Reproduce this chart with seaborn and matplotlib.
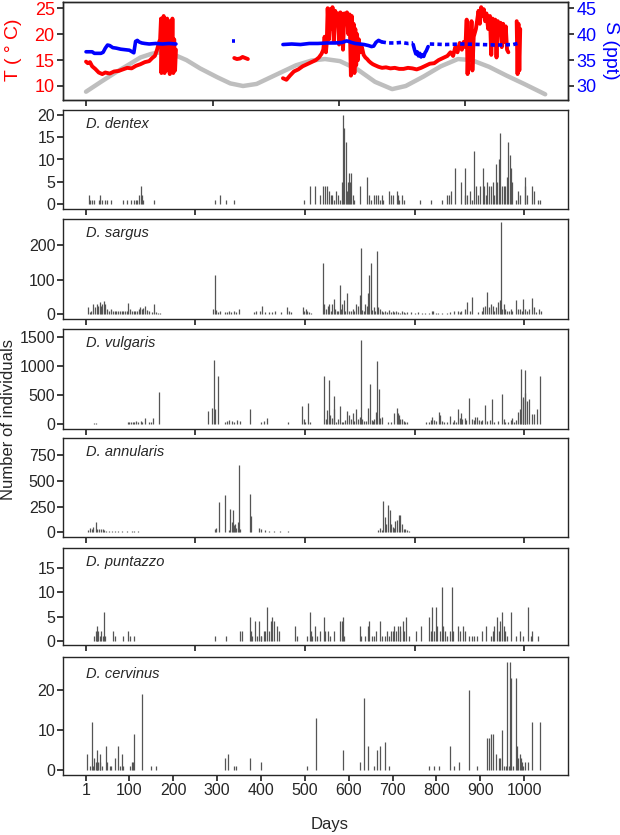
import matplotlib

matplotlib.use("Agg")
import matplotlib.pyplot as plt
import numpy as np
import pandas as pd
import seaborn as sns

nan = np.nan

# ---- top panel: seasonal curve, temperature (degC) and salinity (ppt) ----
season_day = [1, 35, 70, 100, 125, 150, 170, 200, 230, 261, 300, 330, 359, 390, 430, 480, 515, 546,
              580, 620, 660, 699, 730, 770, 810, 849, 880, 920, 960, 1000, 1048]
season_temp = [8.9, 10.8, 12.7, 14.2, 15.5, 16.2, 16.5, 16.1, 15.0, 13.4, 11.7, 10.5, 10.0, 10.4, 12.0,
               14.0, 14.9, 15.2, 14.8, 13.2, 10.8, 9.4, 10.0, 11.8, 13.8, 15.2, 15.0, 13.7, 12.0, 10.4, 8.4]

# nan marks a gap in the logger record
temp_day = [1, 5, 10, 15, 22, 30, 38, 45, 55, 65, 75, 85, 95, 105, 115, 125, 135, 145, 152, 158, 163,
            167, 170, 172, 173, 175, 176, 178, 180, 182, 184, 186, 188, 190, 192, 194, 196, 198, 200,
            202, 204, 206, nan,
            339, 345, 352, 358, 364, 370, nan,
            450, 458, 466, 475, 485, 495, 505, 515, 525, 532, 538, 542, 545, 548, 550, 552, 555, 558,
            560, 563, 566, 569, 572, 575, 578, 581, 584, 587, 590, 593, 596, 599, 602, 605, 607, 609,
            611, 613, 615, 617, 619, 621, 623, 626, 630, 634, 638, 642, 646, 650, 655, 660, 668, 676,
            685, 695, 705, 715, 725, 735, 745, 755, 765, 775, 785, 795, 805, 815, 825, 832, 838, 843,
            848, 853, 858, 862, 866, 869, 871, 874, 877, 880, 882, 885, 890, 896, 899, 902, 905, 908,
            911, 914, 918, 922, 925, 928, 931, 934, 937, 940, 943, 946, 949, 952, 955, 958, 961, 964, nan,
            983, 985, 987, 989, 991]
temp_val = [14.7, 14.4, 14.6, 13.8, 13.3, 12.6, 12.3, 12.6, 12.4, 12.8, 12.9, 13.2, 13.5, 13.4, 13.9,
            14.2, 14.6, 14.8, 15.4, 15.8, 17.0, 18.3, 19.0, 23.0, 12.5, 22.0, 13.0, 23.5, 12.5, 21.0,
            15.0, 23.0, 13.0, 22.5, 12.3, 20.0, 14.0, 23.0, 12.5, 19.0, 13.0, 17.0, nan,
            15.4, 15.2, 15.3, 15.6, 15.4, 15.2, nan,
            11.5, 11.2, 12.0, 12.8, 13.2, 13.8, 14.2, 14.6, 15.0, 15.5, 16.2, 17.0, 19.5, 16.5, 18.5,
            25.0, 19.0, 24.8, 21.0, 25.2, 18.5, 24.5, 23.5, 24.0, 18.0, 24.2, 23.8, 17.0, 24.0, 22.5,
            24.2, 20.0, 23.8, 12.0, 23.5, 13.0, 22.0, 12.5, 21.0, 14.0, 20.0, 15.0, 19.0, 16.5, 17.5,
            16.0, 15.5, 15.2, 14.8, 14.5, 14.2, 14.0, 13.7, 13.5, 13.6, 13.4, 13.5, 13.3, 13.3, 13.5,
            13.4, 13.2, 13.5, 13.9, 14.3, 14.4, 15.0, 15.4, 15.8, 16.5, 15.8, 17.5, 16.5, 18.3, 17.0,
            18.5, 17.5, 22.8, 12.3, 20.5, 15.0, 22.5, 13.0, 19.5, 21.0, 24.5, 22.0, 25.2, 23.5, 24.8,
            22.5, 24.0, 21.0, 23.5, 16.0, 23.0, 18.0, 22.8, 15.5, 22.5, 20.0, 22.2, 17.5, 22.0, 18.5,
            21.5, 17.0, 16.5, nan,
            22.5, 12.3, 22.0, 13.0, 21.0]

sal_day = [1, 8, 15, 20, 28, 35, 40, 45, 50, 55, 62, 70, 80, 90, 100, 106, 110, 114, 118, 122, 128,
           135, 145, 160, 175, 190, 206, nan,
           450, 470, 490, 510, 530, 550, 570, 585, 595, 600, 606, 615, 625, 635, 645, 652, 657, 662,
           668, 675, nan,
           747, 750, 753, 756, 759, 762, 765, 768, 771, 774, 777, 781]
sal_val = [36.6, 36.6, 36.6, 36.3, 36.3, 36.3, 36.5, 37.3, 37.9, 37.8, 37.4, 37.3, 37.1, 37.0, 36.9,
           36.6, 36.4, 38.6, 38.8, 38.5, 38.3, 38.2, 38.1, 38.2, 38.1, 38.2, 38.1, nan,
           38.0, 38.1, 38.0, 38.2, 38.2, 38.3, 38.3, 38.4, 38.7, 38.6, 38.4, 38.2, 38.1, 38.0, 37.8,
           37.6, 37.7, 38.4, 38.8, 38.5, nan,
           38.0, 37.0, 36.2, 36.6, 35.8, 36.3, 35.6, 36.0, 35.7, 36.4, 36.8, 37.6]
# sparse (broken) stretches of the salinity record
sal_sparse_day = [334, 341, nan, 675, 690, 705, 720, 735, 747, nan,
                  785, 820, 860, 900, 940, 975, 985, 990]
sal_sparse_val = [38.6, 38.6, nan, 38.5, 38.3, 38.3, 38.4, 38.2, 38.3, nan,
                  38.1, 38.0, 38.1, 38.0, 37.9, 38.0, 38.2, 38.6]

# ---- daily counts per species ----
species = ["D. dentex", "D. sargus", "D. vulgaris", "D. annularis", "D. puntazzo", "D. cervinus"]

dentex_day = [7, 11, 15, 19, 30, 34, 38, 45, 49, 57, 86, 95, 103, 110, 114, 118, 122, 126, 129, 131,
              157, 294, 306, 321, 339, 497, 511, 524, 534, 542, 546, 551, 555, 559, 563, 567, 571, 575,
              580, 584, 586, 590, 594, 596, 599, 601, 604, 606, 609, 613, 625, 642, 646, 650, 657, 663,
              667, 671, 675, 679, 692, 696, 700, 710, 712, 715, 721, 725, 762, 787, 812, 823, 828, 834,
              842, 857, 864, 866, 870, 876, 881, 886, 890, 895, 899, 906, 909, 912, 915, 919, 924, 928,
              932, 936, 939, 942, 945, 949, 953, 957, 961, 963, 967, 969, 973, 982, 986, 990, 1001, 1003,
              1007, 1019, 1023, 1032, 1036]
dentex_n = [2, 1, 1, 1, 1, 2, 1, 1, 1, 1, 1, 1, 1, 1, 1, 1, 2, 4, 2, 1,
            1, 1, 2, 1, 1, 1, 4, 4, 2, 4, 4, 4, 3, 2, 2, 1, 3, 2,
            1, 5, 20, 17, 14, 3, 5, 7, 5, 7, 2, 1, 4, 6, 2, 1, 2, 2,
            2, 1, 2, 1, 3, 2, 2, 3, 2, 1, 2, 1, 1, 1, 1, 2, 2, 3,
            8, 5, 2, 8, 2, 3, 1, 12, 4, 2, 4, 8, 4, 2, 5, 4, 4, 5,
            2, 9, 5, 10, 16, 4, 4, 4, 6, 14, 11, 8, 5, 1, 3, 2, 4, 6,
            2, 4, 3, 1, 1]

sargus_day = [6, 10, 13, 18, 22, 25, 28, 32, 35, 38, 42, 45, 49, 53, 57, 62, 66, 70, 74, 78, 82, 86,
              91, 95, 97, 101, 105, 110, 113, 118, 121, 125, 128, 132, 136, 140, 144, 151, 157, 161,
              165, 169, 290, 294, 298, 302, 306, 317, 323, 327, 331, 339, 343, 350, 383, 389, 397, 403,
              408, 418, 426, 433, 445, 459, 464, 468, 495, 498, 502, 505, 509, 513, 541, 544, 548, 552,
              556, 559, 561, 566, 569, 573, 576, 579, 582, 585, 589, 592, 596, 600, 605, 609, 613, 617,
              621, 625, 627, 630, 634, 638, 642, 644, 647, 650, 653, 657, 661, 664, 667, 671, 675, 679,
              683, 687, 692, 696, 700, 704, 708, 712, 716, 721, 725, 729, 733, 741, 750, 758, 766, 774,
              783, 789, 793, 798, 803, 812, 824, 832, 841, 849, 853, 857, 866, 870, 876, 882, 895, 903,
              907, 911, 915, 919, 924, 928, 932, 936, 940, 944, 947, 950, 954, 957, 961, 965, 969, 973,
              982, 986, 990, 994, 998, 1002, 1007, 1011, 1019, 1023, 1027, 1033, 1038]
sargus_n = [20, 5, 10, 30, 20, 30, 25, 35, 25, 30, 38, 30, 15, 10, 15, 8, 10, 8, 10, 8, 10, 10,
            8, 10, 32, 15, 10, 8, 10, 8, 15, 20, 15, 18, 25, 12, 8, 5, 30, 5,
            3, 3, 15, 112, 12, 5, 10, 5, 5, 8, 5, 8, 5, 15, 5, 8, 8, 25,
            5, 5, 5, 10, 5, 20, 10, 5, 20, 10, 15, 8, 5, 3, 148, 30, 15, 25,
            28, 10, 30, 45, 15, 10, 10, 85, 15, 30, 40, 10, 60, 10, 10, 15, 8, 30,
            25, 55, 190, 12, 10, 30, 25, 60, 112, 148, 12, 20, 8, 183, 20, 15, 8, 5,
            10, 5, 12, 5, 8, 5, 8, 5, 3, 8, 5, 3, 5, 5, 3, 5, 3, 3,
            3, 8, 8, 3, 3, 3, 3, 5, 8, 10, 5, 8, 15, 35, 10, 50, 5, 8,
            20, 25, 65, 20, 30, 25, 10, 20, 35, 40, 265, 15, 30, 15, 10, 8, 15, 10,
            40, 15, 15, 10, 45, 15, 10, 15, 48, 20, 5, 15, 10]

vulgaris_day = [20, 24, 96, 99, 103, 107, 111, 115, 120, 126, 129, 136, 144, 149, 154, 168, 280, 288,
                292, 295, 302, 317, 322, 327, 333, 339, 345, 352, 375, 401, 406, 414, 462, 494, 498,
                501, 508, 511, 544, 549, 551, 554, 557, 561, 566, 567, 571, 575, 580, 584, 588, 592,
                596, 600, 605, 609, 613, 617, 621, 625, 628, 631, 635, 640, 644, 648, 652, 655, 658,
                663, 665, 668, 672, 675, 690, 696, 704, 710, 712, 715, 718, 721, 725, 729, 733, 777,
                783, 787, 791, 795, 799, 805, 809, 812, 818, 824, 832, 837, 841, 845, 849, 853, 856,
                859, 864, 868, 874, 881, 885, 889, 892, 897, 901, 905, 910, 915, 922, 927, 932, 940,
                949, 953, 957, 963, 969, 972, 977, 982, 986, 990, 993, 997, 998, 1002, 1003, 1007,
                1010, 1019, 1023, 1030, 1036]
vulgaris_n = [10, 10, 20, 30, 30, 20, 30, 40, 30, 50, 30, 100, 30, 20, 100, 550, 220, 270,
              1100, 250, 830, 30, 50, 60, 40, 20, 60, 40, 250, 20, 40, 100, 20, 300, 80,
              20, 350, 20, 830, 80, 240, 750, 150, 100, 480, 250, 20, 80, 300, 30, 20, 60,
              220, 150, 80, 180, 50, 260, 80, 110, 1450, 80, 40, 50, 270, 680, 60, 40, 80,
              200, 1090, 600, 100, 120, 30, 20, 190, 270, 180, 150, 80, 80, 50, 20, 20, 20,
              20, 60, 120, 60, 40, 200, 150, 50, 20, 20, 130, 30, 60, 30, 250, 100, 190,
              80, 100, 60, 440, 80, 60, 120, 120, 60, 40, 60, 320, 50, 60, 420, 30, 40,
              520, 80, 30, 20, 60, 100, 20, 60, 200, 250, 950, 430, 470, 930, 540, 400,
              430, 160, 170, 250, 830]

annularis_day = [6, 10, 14, 18, 23, 27, 31, 35, 39, 43, 47, 53, 60, 66, 74, 82, 95, 105, 111, 120,
                 294, 298, 304, 317, 327, 330, 333, 335, 338, 340, 343, 348, 350, 353, 374, 377, 395,
                 400, 408, 418, 430, 443, 461, 667, 671, 677, 679, 682, 685, 690, 693, 696, 700, 704,
                 706, 710, 715, 718, 721, 725, 729, 733, 737]
annularis_n = [20, 40, 30, 50, 100, 30, 30, 30, 30, 20, 10, 10, 10, 10, 8, 8, 8, 8, 8, 8,
               30, 40, 290, 360, 20, 230, 100, 220, 70, 80, 40, 100, 650, 30, 370, 160, 40,
               30, 20, 10, 10, 10, 8, 20, 40, 20, 300, 150, 80, 260, 215, 80, 50, 40,
               110, 120, 170, 170, 80, 30, 30, 20, 10]

puntazzo_day = [20, 23, 25, 27, 29, 32, 36, 39, 43, 45, 63, 66, 85, 97, 101, 110, 294, 320, 353, 357,
                374, 377, 379, 386, 390, 395, 399, 401, 406, 408, 414, 418, 422, 426, 430, 436, 440,
                478, 483, 505, 511, 515, 517, 523, 527, 534, 544, 546, 553, 557, 567, 580, 584, 588,
                590, 625, 629, 636, 643, 647, 652, 658, 663, 671, 677, 682, 687, 692, 696, 700, 704,
                708, 712, 716, 718, 723, 727, 731, 737, 754, 764, 783, 787, 791, 795, 799, 802, 808,
                812, 816, 820, 824, 831, 835, 838, 849, 854, 860, 866, 874, 881, 886, 892, 903, 912,
                924, 928, 932, 938, 942, 946, 949, 953, 957, 961, 970, 982, 990, 998, 1008, 1015,
                1019, 1032]
puntazzo_n = [1, 2, 1, 3, 2, 1, 2, 1, 6, 1, 2, 1, 1, 2, 1, 1, 1, 1, 2, 2,
              5, 2, 1, 4, 1, 4, 1, 1, 2, 2, 7, 2, 4, 5, 4, 3, 2,
              3, 1, 1, 6, 2, 1, 3, 1, 2, 5, 2, 2, 1, 2, 4, 4, 5,
              1, 3, 1, 1, 3, 4, 1, 1, 2, 4, 1, 1, 2, 1, 2, 2, 3,
              2, 3, 3, 2, 4, 2, 5, 1, 2, 3, 5, 2, 7, 2, 7, 3, 2,
              11, 3, 2, 1, 2, 11, 2, 3, 2, 3, 2, 1, 1, 1, 1, 2, 3,
              1, 2, 3, 5, 2, 4, 6, 3, 2, 1, 6, 1, 2, 1, 7, 1,
              2, 1]

cervinus_day = [3, 10, 14, 17, 20, 23, 25, 27, 29, 32, 34, 37, 47, 49, 55, 57, 66, 74, 78, 82, 85,
                101, 105, 107, 110, 128, 150, 161, 319, 325, 339, 343, 375, 400, 505, 525, 586, 625,
                635, 643, 657, 665, 671, 682, 692, 783, 795, 806, 831, 839, 852, 874, 892, 915, 919,
                924, 928, 936, 942, 946, 949, 953, 958, 962, 965, 968, 971, 975, 982, 984, 987, 990,
                993, 995, 998, 1002, 1008, 1019, 1036]
cervinus_n = [4, 1, 12, 1, 3, 2, 5, 1, 2, 2, 4, 1, 6, 2, 1, 1, 3, 6, 1, 4, 1,
              1, 2, 2, 9, 19, 1, 1, 3, 4, 1, 1, 3, 2, 1, 13, 5, 2,
              18, 6, 1, 5, 6, 7, 1, 1, 1, 1, 6, 1, 2, 20, 1, 8, 8,
              9, 9, 4, 3, 3, 10, 1, 1, 27, 1, 27, 23, 1, 23, 6, 3, 4,
              3, 2, 1, 2, 2, 12, 12]

species_days = [dentex_day, sargus_day, vulgaris_day, annularis_day, puntazzo_day, cervinus_day]
species_counts = [dentex_n, sargus_n, vulgaris_n, annularis_n, puntazzo_n, cervinus_n]
species_yticks = [[0, 5, 10, 15, 20], [0, 100, 200], [0, 500, 1000, 1500],
                  [0, 250, 500, 750], [0, 5, 10, 15], [0, 10, 20]]
species_ylim = [(-1.1, 21.1), (-14, 275), (-95, 1645), (-46, 915), (-0.8, 19.0), (-1.25, 28.25)]
day_ticks = [1, 100, 200, 300, 400, 500, 600, 700, 800, 900, 1000]

# ---- layout (pixels of a 620 x 835 canvas) ----
W, H = 620, 835
X_LEFT, X_RIGHT = 63, 568
XLIM = (-51.5, 1100)
rows = [(2, 100), (110, 209), (219, 319), (329, 429), (438, 537), (548, 645), (657, 775)]


def segments(days, vals):
    df = pd.DataFrame({"day": days, "val": vals})
    df["seg"] = df["val"].isna().cumsum()
    return df.dropna()


sns.set_theme(style="ticks")
plt.rcParams["font.family"] = ["Liberation Sans", "DejaVu Sans"]
plt.rcParams["axes.edgecolor"] = "#262626"
plt.rcParams["axes.linewidth"] = 1.0

fig = plt.figure(figsize=(W / 100, H / 100), dpi=100)


def panel(top, bottom):
    return fig.add_axes([X_LEFT / W, 1 - bottom / H, (X_RIGHT - X_LEFT) / W, (bottom - top) / H])


# top panel
ax_t = panel(*rows[0])
sns.lineplot(data=segments(season_day, season_temp), x="day", y="val", units="seg", estimator=None,
             color="#bebebe", lw=3.2, ax=ax_t)
sns.lineplot(data=segments(temp_day, temp_val), x="day", y="val", units="seg", estimator=None,
             color="#ff0000", lw=2.8, ax=ax_t)
ax_t.set_xlim(XLIM)
ax_t.set_ylim(7.3, 26.2)
ax_t.set_yticks([10, 15, 20, 25])
ax_t.set_xticks([1, 290, 578, 865])
ax_t.set_xticklabels([])
ax_t.set_xlabel("")
ax_t.set_ylabel("")
ax_t.tick_params(axis="y", labelcolor="#ff0000", labelsize=13, length=4, pad=2)
ax_t.tick_params(axis="x", length=4)

ax_s = ax_t.twinx()
sns.lineplot(data=segments(sal_day, sal_val), x="day", y="val", units="seg", estimator=None,
             color="#0000ff", lw=2.6, ax=ax_s)
sns.lineplot(data=segments(sal_sparse_day, sal_sparse_val), x="day", y="val", units="seg",
             estimator=None, color="#0000ff", lw=2.6, linestyle=(0, (1.2, 0.9)), ax=ax_s)
ax_s.set_xlim(XLIM)
ax_s.set_ylim(27.3, 46.2)
ax_s.set_yticks([30, 35, 40, 45])
ax_s.set_xlabel("")
ax_s.set_ylabel("")
ax_s.tick_params(axis="y", labelcolor="#0000ff", labelsize=13, length=4, pad=2)

fig.text(13 / W, 1 - 50 / H, "T ( ° C)", color="#ff0000", fontsize=14, rotation=90,
         ha="center", va="center")
fig.text(610 / W, 1 - 50 / H, "S (ppt)", color="#0000ff", fontsize=14, rotation=-90,
         ha="center", va="center")

# species panels
for i, name in enumerate(species):
    ax = panel(*rows[i + 1])
    ax.vlines(species_days[i], 0, species_counts[i], color="#555555", lw=0.9)
    ax.set_xlim(XLIM)
    ax.set_ylim(species_ylim[i])
    ax.set_yticks(species_yticks[i])
    ax.tick_params(axis="y", labelsize=11.5, length=4, pad=1.5)
    ax.tick_params(axis="x", labelsize=11.5, length=4, pad=2)
    if i == len(species) - 1:
        ax.set_xticks(day_ticks)
        ax.set_xticklabels([str(d) for d in day_ticks])
    else:
        ax.set_xticks([1, 250, 500, 750, 1000])
        ax.set_xticklabels([])
    ax.text(0.046, 0.855, name, style="italic", fontsize=10.5, transform=ax.transAxes,
            ha="left", va="center")

fig.text(9 / W, 1 - 420 / H, "Number of individuals", fontsize=12, rotation=90,
         ha="center", va="center")
fig.text(330 / W, 1 - 825 / H, "Days", fontsize=12, ha="center", va="center")

fig.savefig("out.png", dpi=100)
